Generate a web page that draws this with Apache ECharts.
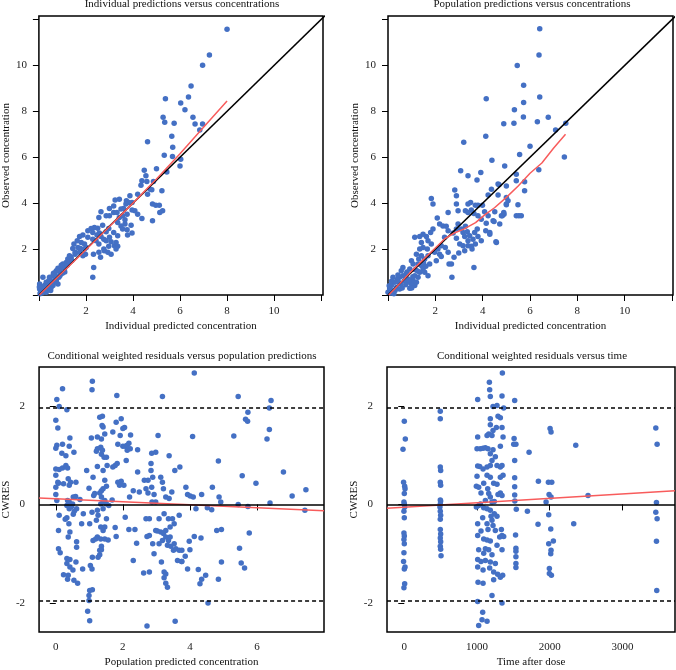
<!DOCTYPE html>
<html>
<head>
<meta charset="utf-8">
<script src="https://cdn.jsdelivr.net/npm/echarts@6/dist/echarts.min.js"></script>
<style>
  html, body { margin: 0; padding: 0; background: #fff; }
  #gof { width: 676px; height: 670px; }
</style>
</head>
<body>
<div id="gof"></div>
<script>
// individual prediction vs observed concentration
const ipredVsObs = [
  [5.33,6.09],[5.0,5.5],[4.48,5.43],[4.55,5.19],[4.38,4.97],[4.59,4.94],[4.87,4.94],[4.34,4.78],[4.73,4.61],[4.8,4.58],
  [5.23,4.54],[4.2,4.39],[4.62,4.39],[3.87,4.32],[3.42,4.17],[3.24,4.14],[3.72,4.1],[3.82,4.03],[3.96,4.03],[3.7,3.96],
  [4.83,3.96],[4.97,3.91],[5.12,3.91],[5.26,3.67],[5.14,3.59],[4.83,3.23],[4.2,3.52],[4.38,3.33],[4.08,3.67],[3.96,3.7],
  [3.6,3.77],[3.49,3.74],[3.18,3.88],[3.0,3.77],[2.64,3.62],[2.55,3.38],[2.86,3.45],[3.0,3.45],[3.18,3.59],[3.32,3.59],
  [3.42,3.38],[3.56,3.45],[3.66,3.28],[3.75,3.52],[3.66,3.09],[3.35,3.16],[3.49,3.01],[3.56,2.87],[3.75,2.84],[3.92,3.04],
  [3.96,2.7],[3.77,2.61],[3.35,2.58],[3.18,2.72],[2.86,2.75],[2.97,2.9],[2.71,3.04],[2.5,2.91],[2.36,2.94],[2.22,2.9],
  [2.08,2.8],[2.29,2.72],[2.47,2.61],[2.57,2.7],[2.64,2.55],[2.76,2.43],[2.86,2.36],[3.0,2.51],[3.07,2.32],[3.21,2.14],
  [3.35,2.12],[3.28,2.29],[2.97,2.12],[2.76,2.0],[2.55,2.22],[2.43,2.36],[2.29,2.43],[2.08,2.51],[1.87,2.61],[1.73,2.55],
  [1.63,2.36],[1.8,2.29],[1.94,2.22],[2.01,2.07],[1.66,2.07],[1.49,2.22],[1.44,2.03],[1.54,1.86],[1.73,1.86],[1.87,1.71],
  [1.98,1.78],[2.32,1.78],[2.62,1.64],[2.33,1.2],[2.29,0.77],[2.55,1.86],[2.78,1.93],[2.93,1.86],[3.07,1.78],[3.28,2.0],
  [1.37,1.64],[1.23,1.57],[1.16,1.42],[1.02,1.35],[0.95,1.2],[1.09,1.16],[0.81,1.16],[0.74,1.06],[0.67,0.96],[0.88,1.01],
  [0.6,0.84],[0.45,0.77],[0.52,0.62],[0.31,0.55],[0.17,0.77],[0.24,0.41],[0.1,0.33],[0.03,0.26],[0.17,0.19],[0.38,0.26],
  [0.6,0.41],[0.74,0.62],[0.81,0.48],[0.85,0.77],[0.52,0.33],[0.38,0.48],[0.03,0.48],[0.07,0.12],[0.31,0.12],[0.67,0.55],
  [1.54,1.78],[1.3,1.71],[1.77,2.03],[1.94,2.0],[0.05,0.05],[0.12,0.22],[0.2,0.3],[0.28,0.35],[0.45,0.4],[0.55,0.5],
  [0.7,0.7],[0.9,0.85],[1.0,0.95],[1.1,1.0],[0.15,0.1],[0.42,0.62],[0.62,0.95],[0.75,0.8],[0.95,1.3],[1.2,1.3],
  [1.28,1.45],[1.4,1.5],[0.5,0.2],[0.02,0.35],
  [8.0,11.57],[7.25,10.45],[6.96,10.0],[6.47,9.1],[6.36,8.62],[5.38,8.55],[6.03,8.36],[6.21,8.07],[5.28,7.74],[6.55,7.74],
  [5.35,7.52],[5.75,7.48],[6.64,7.45],[6.96,7.45],[6.84,7.19],[5.65,6.91],[4.62,6.67],[5.69,6.43],[5.68,6.03],[6.03,5.91],
  [6.0,5.62],[5.44,5.36]
];

// population prediction vs observed concentration
const predVsObs = [
  [4.39,5.87],[4.93,5.62],[3.07,5.41],[3.38,5.19],[3.92,5.33],[3.76,5.01],[4.65,4.83],[5.42,4.97],[2.82,4.57],[2.89,4.32],
  [1.83,4.2],[1.9,3.96],[4.23,4.36],[5.0,4.25],[5.0,3.96],[3.69,3.91],[3.8,3.91],[3.99,3.91],[3.49,4.03],[3.38,3.96],
  [2.89,3.96],[2.96,3.67],[3.27,3.67],[3.38,3.59],[3.52,3.7],[3.63,3.55],[3.8,3.45],[4.08,3.62],[4.23,3.45],[4.51,3.62],
  [4.83,3.45],[4.72,3.09],[4.44,3.23],[3.94,3.3],[4.15,3.13],[2.54,3.59],[2.08,3.35],[2.18,3.09],[2.32,3.01],[2.46,2.99],
  [2.54,2.8],[2.75,2.7],[2.89,2.87],[2.96,3.09],[3.1,2.87],[3.17,2.72],[3.27,2.99],[3.35,2.75],[3.24,2.55],[3.38,2.36],
  [3.45,2.58],[3.59,2.43],[3.66,2.72],[3.77,2.87],[3.8,2.55],[3.94,2.36],[3.69,2.22],[3.38,2.14],[3.24,1.93],[2.99,1.83],
  [2.79,1.64],[2.54,1.86],[2.42,2.07],[2.25,2.14],[2.11,2.0],[2.18,1.78],[2.25,1.68],[2.58,1.35],[2.68,1.35],[2.7,0.77],
  [3.63,1.2],[1.9,2.87],[1.8,2.72],[1.62,2.55],[1.48,2.65],[1.34,2.55],[1.13,2.51],[1.41,2.29],[1.69,2.36],[1.83,2.22],
  [1.66,2.0],[1.48,2.07],[1.34,2.0],[1.97,1.86],[2.04,1.49],[1.69,1.71],[1.55,1.57],[1.41,1.71],[1.3,1.57],[1.2,1.78],
  [0.99,1.49],[1.06,1.35],[1.27,1.35],[1.41,1.28],[1.48,1.13],[1.34,0.99],[1.13,0.84],[1.06,0.62],[1.13,0.41],[0.99,0.48],
  [1.2,0.55],[1.27,0.77],[0.92,1.13],[0.77,0.91],[0.63,0.84],[0.56,1.06],[0.49,0.77],[0.39,0.67],[0.28,0.55],[0.21,0.77],
  [0.14,0.41],[0.07,0.26],[0.21,0.19],[0.35,0.33],[0.54,0.48],[0.7,0.62],[0.85,0.7],[0.42,0.87],[0.63,1.2],[1.55,0.99],
  [1.76,1.35],[2.39,2.51],[2.89,2.47],[3.03,2.22],[3.17,2.14],[3.52,2.12],[3.55,2.0],[4.13,2.8],[4.3,2.72],[4.58,2.29],
  [4.9,3.52],[5.07,4.1],[5.42,3.45],[1.69,0.84],[0.92,0.29],[0.0,0.12],[0.11,0.09],[0.49,0.26],[0.82,0.55],
  [0.05,0.4],[0.15,0.6],[0.3,0.2],[0.6,0.3],[0.75,0.45],[1.0,0.3],[0.45,0.55],[0.25,0.05],[0.9,0.65],[1.15,1.1],
  [1.25,1.05],[1.5,1.4],[1.6,1.25],[0.8,1.0],[1.05,0.8],
  [6.41,11.59],[6.38,10.45],[5.46,9.99],[5.73,9.13],[6.41,8.62],[4.15,8.55],[5.73,8.38],[5.34,8.07],[6.77,7.74],[5.72,7.75],
  [4.89,7.46],[5.32,7.48],[6.31,7.54],[7.51,7.48],[7.08,7.19],[4.13,6.91],[3.2,6.65],[6.0,6.48],[5.56,6.12],[7.45,6.01],
  [6.37,5.45],[5.77,4.93],[5.77,4.54],[5.49,3.93],[5.53,3.45],[5.63,3.45],[4.48,3.2],[4.3,2.65],[4.56,2.32],[5.42,5.26],
  [4.37,4.61],[4.69,4.8],[5.0,4.75],[4.65,4.35],[5.0,3.93],[4.79,3.45],[4.89,3.59]
];

// CWRES vs population prediction
const predVsCwres = [
  [0.2,2.35],[0.03,2.13],[0.1,1.99],[0.33,1.92],[0,1.71],[0.06,1.55],[0.42,1.35],[0.03,1.2],[0,1.14],[0.2,1.22],
  [0.4,1.18],[0.18,1.04],[0.54,1.06],[0.3,0.99],[0,0.72],[0.1,0.71],[0.2,0.74],[0.3,0.79],[0.35,0.74],[0,0.59],
  [0.06,0.45],[0,0.35],[0.08,0.43],[0.23,0.42],[0.37,0.52],[0.44,0.45],[0.4,0.39],[0.6,0.45],[0,0.2],[0.03,0.08],
  [0.35,0.08],[0.33,-0.02],[0.4,0.05],[0.47,-0.04],[0.4,-0.09],[0.5,0.01],[0.52,0.15],[0.59,0.16],[0.72,0.1],[0.62,-0.09],
  [0.55,-0.14],[0.52,-0.2],[0.1,-0.22],[0.33,-0.27],[0.28,-0.3],[0.08,-0.53],[0.39,-0.39],[0.42,-0.56],[0.37,-0.66],[0.62,-0.76],
  [0.62,-0.87],[0.08,-0.9],[0.13,-0.98],[0.33,-1.1],[0.42,-1.12],[0.33,-1.2],[0.6,-1.17],[0.42,-1.27],[0.51,-1.33],[0.23,-1.43],
  [0.37,-1.44],[0.35,-1.52],[0.54,-1.54],[0.65,-1.6],[0.8,-1.31],[0.77,-0.39],[0.82,-0.19],[1.01,-0.39],[1.08,-0.16],[1.11,-0.73],
  [1.09,-1.07],[1.03,-1.24],[1.08,-1.31],[1.01,-1.75],[1.09,-1.73],[0.99,-1.85],[0.99,-1.95],[0.95,-2.17],[1.01,-2.36],[1.09,2.5],
  [1.08,2.33],[1.06,1.35],[1.11,0.55],[0.99,0.33],[0.92,0.69],[1.13,0.18],[1.16,0.22],[1.24,1.37],[1.24,1.13],[1.21,1.08],
  [1.24,0.77],[1.31,1.77],[1.39,1.79],[1.38,1.6],[1.41,1.57],[1.36,1.33],[1.34,1.16],[1.36,1.02],[1.39,1.1],[1.44,0.96],
  [1.51,0.96],[1.46,1.43],[1.53,0.79],[1.41,0.69],[1.46,0.49],[1.51,0.37],[1.41,0.32],[1.36,0.28],[1.31,0.23],[1.36,0.15],
  [1.46,0.08],[1.41,0.05],[1.34,0.01],[1.51,0.01],[1.58,-0.02],[1.41,-0.09],[1.24,-0.12],[1.26,-0.22],[1.21,-0.32],[1.51,-0.29],
  [1.46,-0.46],[1.34,-0.46],[1.41,-0.53],[1.24,-0.66],[1.19,-0.7],[1.34,-0.7],[1.46,-0.7],[1.56,-0.72],[1.36,-0.85],[1.36,-0.92],
  [1.31,-0.93],[1.31,-1.02],[1.26,-1.07],[1.77,-0.47],[1.8,-0.65],[1.7,0.76],[1.7,1.47],[1.8,1.67],[1.82,2.21],[1.95,1.74],
  [2.0,1.54],[2.05,1.56],[1.92,1.4],[1.85,1.22],[2.0,1.18],[2.07,1.18],[2.13,1.2],[2.18,1.24],[2.13,1.1],[2.22,1.13],
  [2.23,1.41],[2.1,0.89],[1.83,0.83],[1.77,0.79],[1.85,0.45],[1.9,0.39],[1.95,0.47],[2.03,0.39],[1.68,0.09],[2.07,-0.26],
  [2.18,-0.51],[2.36,-0.51],[2.31,-1.14],[2.41,-0.79],[2.44,1.11],[2.2,0.15],[2.31,0.28],[2.44,0.66],[2.49,0.25],[2.64,0.49],
  [2.69,0.32],[2.75,0.49],[2.75,0.23],[2.69,-0.29],[2.79,-0.29],[2.72,-0.65],[2.79,-0.63],[2.86,0.35],[2.84,0.69],[2.89,0.55],
  [2.84,0.83],[2.86,1.04],[2.98,1.06],[3.05,1.4],[2.93,0.2],[2.98,0.05],[2.87,0.05],[3.18,0.45],[3.13,0.55],[3.21,0.32],
  [3.28,0.15],[3.38,0.12],[3.23,-0.19],[3.36,-0.29],[3.08,-0.29],[2.98,-0.53],[3.03,-0.54],[3.13,-0.56],[3.28,-0.53],[3.21,-0.59],
  [2.89,-0.8],[3.08,-0.8],[3.18,-0.73],[3.28,-0.66],[3.36,-0.73],[3.41,-0.66],[3.33,-0.83],[3.43,-0.85],[3.53,-0.8],[3.58,-0.9],
  [3.51,-0.93],[3.68,-0.93],[3.63,-1.14],[2.93,-1.0],[3.15,-1.17],[3.23,-1.37],[3.28,-1.41],[3.23,-1.49],[3.28,-1.6],[3.33,-1.68],
  [2.79,-1.37],[2.62,-1.39],[3.41,-0.46],[3.48,-0.29],[3.53,-0.39],[3.46,0.25],[3.55,0.69],[3.38,0.99],[3.7,0.76],[3.18,2.19],
  [2.72,-2.47],[3.56,-2.37],[3.75,-1.16],
  [4.13,2.67],[5.44,2.19],[6.42,2.11],[6.37,1.96],[5.73,1.87],[5.66,1.73],[5.72,1.69],[6.37,1.52],[4.08,1.38],[5.31,1.39],
  [6.3,1.33],[4.85,0.88],[6.79,0.66],[5.56,0.58],[5.97,0.43],[3.88,0.35],[4.67,0.35],[7.46,0.3],[7.05,0.17],[3.93,0.2],
  [4.01,0.17],[4.1,0.15],[4.35,0.2],[4.87,0.15],[4.92,0.05],[5.44,0.0],[5.73,-0.04],[6.39,0.03],[7.43,-0.12],[4.18,-0.09],
  [4.52,-0.07],[4.65,-0.11],[3.68,-0.22],[4.8,-0.53],[4.94,-0.51],[5.77,-0.58],[4.13,-0.65],[4.33,-0.68],[3.98,-0.75],[4.0,-0.92],
  [3.76,-0.93],[3.86,-1.05],[3.76,-1.16],[5.48,-0.89],[5.53,-1.19],[5.63,-1.29],[4.94,-1.17],[3.93,-1.31],[4.25,-1.32],[4.47,-1.44],
  [4.35,-1.52],[4.3,-1.61],[4.85,-1.52],[4.54,-2.0]
];

// CWRES vs time after dose
const timeVsCwres = [
  [0,1.69],[14,1.33],[-18,1.12],[-10,0.45],[5,0.37],[10,0.32],[0,0.22],[-5,0.05],[0,0.01],[5,-0.05],
  [-5,-0.14],[0,-0.27],[-5,-0.58],[0,-0.64],[-5,-0.71],[0,-0.8],[-5,-0.98],[-10,-1.16],[10,-1.27],[0,-1.31],
  [5,-1.61],[-5,-1.69],
  [495,1.89],[495,1.74],[495,0.76],[500,0.69],[495,0.45],[500,0.39],[495,0.09],[500,0.07],[495,0.01],[490,-0.05],
  [495,-0.14],[500,-0.22],[495,-0.3],[495,-0.51],[500,-0.6],[495,-0.68],[500,-0.76],[495,-0.85],[500,-0.91],[505,-1.04],
  [1009,2.13],[1170,2.48],[1174,2.33],[1183,2.19],[1349,2.67],[1344,2.2],[1367,1.96],[1220,1.99],[1275,2.01],[1321,1.76],
  [1289,1.79],[1183,1.74],[1183,1.62],[1220,1.5],[1266,1.56],[1344,1.56],[1161,1.43],[1206,1.4],[1138,1.4],[1009,1.37],
  [1046,1.13],[1000,1.13],[1083,1.14],[1115,1.15],[1151,1.13],[1183,1.03],[1220,1.11],[1321,1.18],[1358,1.37],[1009,0.78],
  [1037,0.77],[1083,0.72],[1138,0.76],[1183,0.79],[1206,0.89],[1252,0.97],[1275,0.79],[1321,0.76],[1344,0.79],[1321,0.55],
  [1358,0.59],[1138,0.59],[1183,0.55],[1000,0.57],[991,0.37],[1023,0.35],[1055,0.23],[1092,0.43],[1147,0.32],[1229,0.43],
  [1275,0.41],[1321,0.23],[1344,0.18],[1289,0.2],[1161,0.22],[1183,0.15],[1115,0.08],[1238,0.06],[1206,0.05],[1046,0.01],
  [1023,-0.02],[991,-0.05],[1092,-0.07],[1138,-0.09],[1183,-0.12],[1238,-0.19],[1193,-0.24],[1275,-0.24],[1009,-0.39],[1078,-0.27],
  [1138,-0.39],[1151,-0.51],[1206,-0.32],[1220,-0.43],[1252,-0.53],[1335,-0.51],[1344,-0.63],[1312,-0.66],[1367,-0.65],[1009,-0.63],
  [1055,-0.54],[1092,-0.7],[1138,-0.72],[1183,-0.74],[1023,-0.92],[1115,-0.9],[1161,-0.92],[1092,-0.99],[1206,-1.02],[1275,-0.83],
  [1344,-0.92],[1009,-1.12],[1055,-1.16],[1115,-1.14],[1183,-1.17],[1252,-1.2],[1009,-1.27],[1083,-1.33],[1174,-1.29],[1229,-1.37],
  [1284,-1.42],[1321,-1.48],[1353,-1.44],[1229,-1.53],[1014,-1.58],[1083,-1.6],[1206,-1.85],[1344,-2.0],[1009,-1.97],[1078,-2.19],
  [1069,-2.34],[1138,-2.37],[1023,-2.46],
  [1518,2.11],[1510,1.34],[1505,1.22],[1535,1.22],[1518,0.89],[1518,0.54],[1518,0.36],[1518,0.19],[1520,0.07],[1540,-0.1],
  [1530,-0.62],[1535,-0.89],[1535,-0.95],[1535,-1.06],[1535,-1.2],[1535,-1.28],
  [1716,1.06],[2005,1.54],[2018,1.47],[2358,1.2],[3459,1.55],[3477,1.22],[1844,0.47],[1982,0.45],[2028,0.45],[1991,0.2],
  [2018,0.15],[2527,0.18],[1950,0.05],[3468,0.04],[1693,-0.14],[1986,-0.21],[3459,-0.16],[3477,-0.29],[1839,-0.4],[2330,-0.39],
  [2014,-0.5],[2050,-0.74],[1986,-0.8],[2018,-0.93],[2014,-1.0],[3468,-0.75],[1995,-1.3],[1995,-1.4],[2023,-1.44],[3472,-1.75]
];

// smoothers and reference lines
const identityLine = [[0, 0], [12.2, 12.2]];
const ipredSmooth = [[0.02,0.0],[1,0.98],[2,1.97],[3,2.98],[4,4.0],[5,5.05],[6,6.15],[7,7.3],[8,8.45]];
const predSmooth = [[0.03,0.0],[0.5,0.5],[1.0,1.05],[1.5,1.55],[2.0,2.05],[2.4,2.45],[2.8,2.7],[3.2,2.87],
  [3.7,3.15],[4.1,3.5],[4.5,3.8],[5.0,4.25],[5.5,4.75],[6.0,5.3],[6.5,5.75],[7.0,6.4],[7.5,7.0]];
const predCwresTrend = [[-0.5, 0.13], [8.0, -0.13]];
const timeCwresTrend = [[-238, -0.08], [3723, 0.28]];

const concTicks = [0, 2, 4, 6, 8, 10, 12];
const concLabels = [2, 4, 6, 8, 10];
const cwresTicks = [-2, 0, 2];
const predTicks = [0, 2, 4, 6];
const timeTicks = [0, 1000, 2000, 3000];

const FONT = "Liberation Serif";
const BLUE = "#4470C4";
const RED = "#F85C5C";

function axis(idx, min, max, ticks, labels, margin, name, gap) {
  return {
    type: "value", gridIndex: idx, min: min, max: max,
    name: name, nameLocation: "middle", nameGap: gap,
    nameTextStyle: { fontFamily: FONT, fontSize: 11, color: "#111" },
    axisLine: { show: false },
    splitLine: { show: false },
    axisTick: { show: true, inside: false, length: 6, customValues: ticks, lineStyle: { color: "#000", width: 1 } },
    axisLabel: { customValues: labels, margin: margin, fontFamily: FONT, fontSize: 11, color: "#222",
                 formatter: (v) => String(v) },
  };
}

function grid(left, top, w, h) {
  return { left: left, top: top, width: w, height: h, show: true,
           borderColor: "#000", borderWidth: 1.5, backgroundColor: "transparent" };
}

function points(idx, data) {
  return { type: "scatter", xAxisIndex: idx, yAxisIndex: idx, data: data, symbolSize: 5.5,
           itemStyle: { color: BLUE, opacity: 1 }, silent: true, z: 2 };
}

function line(idx, data, color, z) {
  return { type: "line", xAxisIndex: idx, yAxisIndex: idx, data: data, showSymbol: false,
           lineStyle: { color: color, width: 1.5 }, silent: true, z: z, clip: true };
}

const refLines = {
  symbol: "none", silent: true, label: { show: false },
  data: [
    { yAxis: 0, lineStyle: { color: "#000", width: 1.5, type: "solid" } },
    { yAxis: 1.96, lineStyle: { color: "#000", width: 1.5, type: [4, 3] } },
    { yAxis: -1.96, lineStyle: { color: "#000", width: 1.5, type: [4, 3] } },
  ],
};

let chart = echarts.init(document.getElementById("gof"), null, { renderer: "canvas" });

let titleStyle = { fontFamily: FONT, fontSize: 11, fontWeight: "normal", color: "#111" };

let option = {
  animation: false,
  title: [
    { text: "Individual predictions versus concentrations", left: 182, top: -1, textAlign: "center", textStyle: titleStyle, padding: 0 },
    { text: "Population predictions versus concentrations", left: 532, top: -1, textAlign: "center", textStyle: titleStyle, padding: 0 },
    { text: "Conditional weighted residuals versus population predictions", left: 182, top: 351, textAlign: "center", textStyle: titleStyle, padding: 0 },
    { text: "Conditional weighted residuals versus time", left: 532, top: 351, textAlign: "center", textStyle: titleStyle, padding: 0 },
  ],
  grid: [
    grid(37, 16, 286, 279),
    grid(388, 16, 285, 279),
    grid(36, 367, 288, 265),
    grid(387, 367, 288, 265),
  ],
  xAxis: [
    axis(0, 0, 12.08, concTicks, concLabels, 11, "Individual predicted concentration", 26),
    axis(1, 0, 12.04, concTicks, concLabels, 11, "Individual predicted concentration", 26),
    axis(2, -0.5, 8.0, predTicks, predTicks, 10, "Population predicted concentration", 25),
    axis(3, -238, 3723, timeTicks, timeTicks, 10, "Time after dose", 25),
  ],
  yAxis: [
    axis(0, 0, 12.15, concTicks, concLabels, 12, "Observed concentration", 23),
    axis(1, 0, 12.15, concTicks, concLabels, 12, "Observed concentration", 23),
    axis(2, -2.59, 2.79, cwresTicks, cwresTicks, 14, "CWRES", 26),
    axis(3, -2.59, 2.79, cwresTicks, cwresTicks, 14, "CWRES", 26),
  ],
  series: [
    points(0, ipredVsObs),
    line(0, identityLine, "#000", 3),
    line(0, ipredSmooth, RED, 4),
    points(1, predVsObs),
    line(1, identityLine, "#000", 3),
    line(1, predSmooth, RED, 4),
    Object.assign(points(2, predVsCwres), { markLine: refLines }),
    line(2, predCwresTrend, RED, 4),
    Object.assign(points(3, timeVsCwres), { markLine: refLines }),
    line(3, timeCwresTrend, RED, 4),
  ],
};

chart.setOption(option);
</script>
</body>
</html>
